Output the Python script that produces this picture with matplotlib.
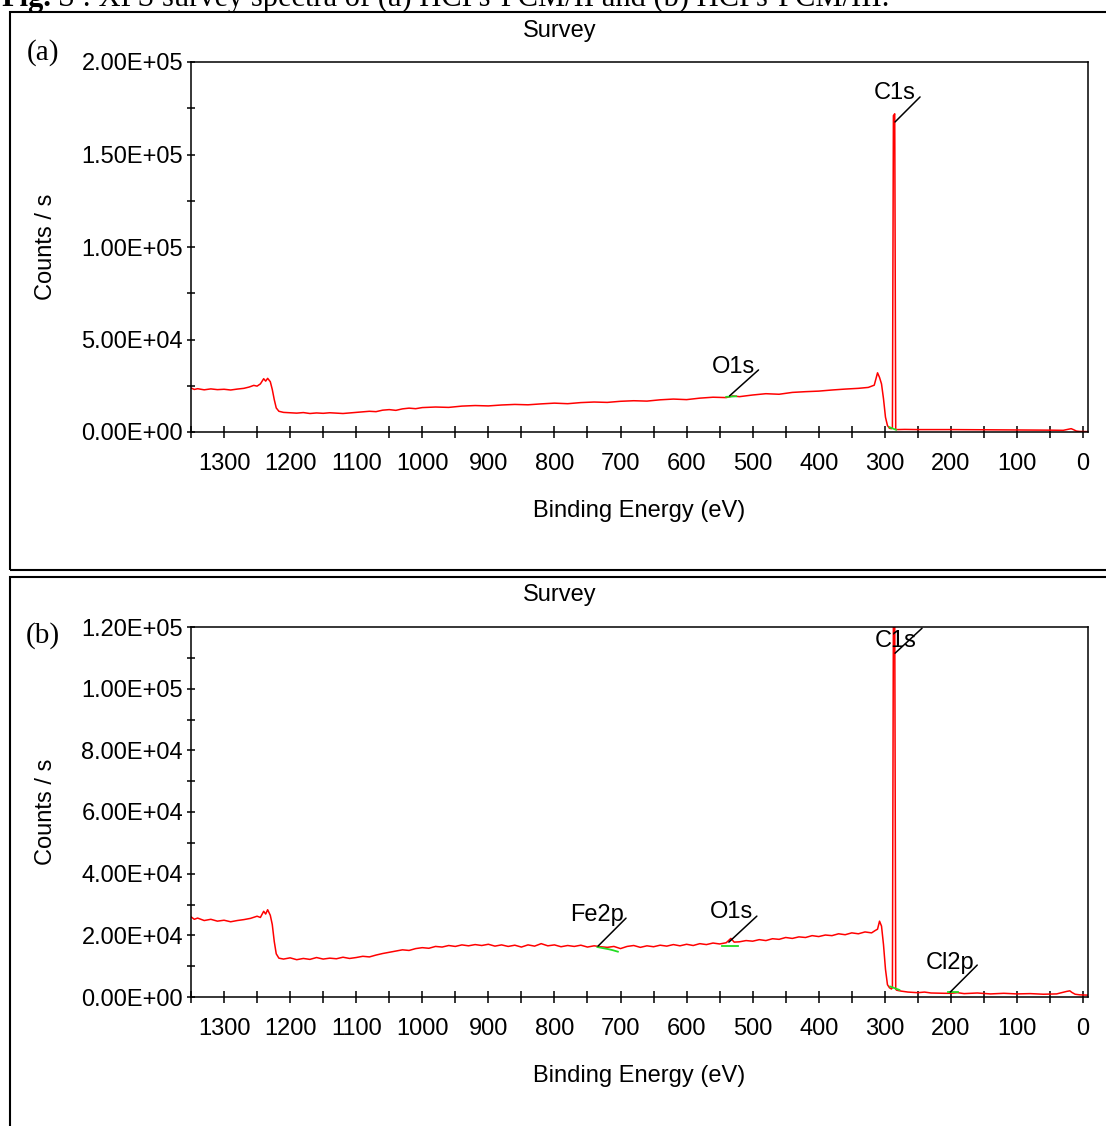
import matplotlib
matplotlib.use("Agg")
import matplotlib.pyplot as plt
from matplotlib.patches import Rectangle
from matplotlib.ticker import MultipleLocator, FuncFormatter

plt.rcParams['font.family'] = ['Liberation Sans', 'DejaVu Sans']

# ---------------- data ----------------
be_a = [1350, 1345, 1340, 1330, 1320, 1310, 1300, 1290, 1280, 1270, 1262, 1255, 1250, 1245,
        1240, 1237, 1234, 1230, 1227, 1224, 1221, 1217, 1210, 1200, 1190, 1180, 1170, 1160,
        1150, 1140, 1120, 1110, 1100, 1090, 1080, 1070, 1060, 1050, 1040, 1030, 1020, 1010,
        1000, 980, 960, 940, 920, 900, 880, 860, 840, 820, 800, 780, 760, 740, 720, 700, 680,
        660, 640, 620, 600, 580, 560, 540, 530, 520, 500, 480, 460, 440, 420, 400, 380, 360,
        340, 325, 316, 311, 308, 305, 302, 299, 296, 293, 290, 288.5, 287, 285, 283.5, 282,
        270, 250, 200, 150, 100, 50, 30, 22, 18, 14, 10, 5, -7.5]
counts_a = [23800, 23000, 23400, 22800, 23300, 22900, 23100, 22700, 23200, 23600, 24300, 25200,
            24800, 26000, 28800, 27500, 29000, 27200, 23000, 17500, 13000, 11200, 10600, 10400,
            10200, 10500, 10000, 10300, 10100, 10400, 10000, 10300, 10600, 10900, 11200, 11000,
            11800, 12100, 11700, 12500, 12900, 12600, 13200, 13500, 13300, 14000, 14300, 14100,
            14600, 14900, 14700, 15200, 15600, 15300, 15900, 16200, 16000, 16600, 16900, 16700,
            17400, 17800, 17500, 18300, 18800, 18600, 19500, 19100, 20000, 20700, 20400, 21400,
            21800, 22100, 22700, 23200, 23600, 24100, 25300, 32000, 29500, 26000, 18000, 8000,
            3500, 2000, 1800, 2500, 171000, 172000, 1500, 1300, 1400, 1300, 1300, 1200, 1100,
            1000, 900, 1500, 1800, 1200, 500, 300, 200]
bg_a_O1s_be = [540, 525]
bg_a_O1s_counts = [19000, 19300]
bg_a_C1s_be = [293, 283]
bg_a_C1s_counts = [2600, 1200]

be_b = [1350, 1345, 1340, 1330, 1320, 1310, 1300, 1290, 1280, 1270, 1260, 1250, 1245, 1240,
        1237, 1234, 1230, 1227, 1224, 1221, 1217, 1210, 1200, 1190, 1180, 1170, 1160, 1150,
        1140, 1130, 1120, 1110, 1100, 1090, 1080, 1070, 1060, 1050, 1040, 1030, 1020, 1010,
        1000, 990, 980, 970, 960, 950, 940, 930, 920, 910, 900, 890, 880, 870, 860, 850, 840,
        830, 820, 810, 800, 790, 780, 770, 760, 750, 740, 730, 720, 710, 700, 690, 680, 670,
        660, 650, 640, 630, 620, 610, 600, 590, 580, 570, 560, 550, 540, 533, 528, 520, 510,
        500, 490, 480, 470, 460, 450, 440, 430, 420, 410, 400, 390, 380, 370, 360, 350, 340,
        330, 320, 315, 311, 308, 305, 302, 299, 296, 293, 290, 288.5, 287, 285, 283.5, 282,
        275, 265, 250, 240, 230, 210, 200, 190, 180, 160, 140, 120, 100, 80, 60, 40, 25, 20,
        17, 12, 5, -7.5]
counts_b = [26000, 25200, 25600, 24800, 25200, 24600, 24900, 24400, 24800, 25100, 25500, 26200,
            25800, 27800, 26900, 28300, 26500, 23500, 18000, 14000, 12600, 12300, 12700, 12100,
            12500, 12200, 12800, 12300, 12600, 12400, 12900, 12500, 12800, 13200, 13000, 13600,
            14100, 14500, 14900, 15300, 15100, 15700, 16000, 15800, 16400, 16200, 16700, 16400,
            16900, 16600, 17000, 16700, 17100, 16500, 16900, 16400, 16800, 16200, 16900, 16500,
            17300, 16600, 16900, 16300, 16700, 16400, 16800, 16200, 16600, 16300, 16100, 16400,
            15700, 16400, 16700, 16100, 16600, 16300, 16800, 16500, 17000, 16600, 17100, 16700,
            17300, 17000, 17500, 17200, 17600, 19000, 17800, 17900, 18300, 18100, 18600, 18300,
            18900, 18700, 19300, 19000, 19500, 19300, 19900, 19600, 20100, 19900, 20500, 20200,
            20800, 20500, 21100, 20800, 21500, 22000, 24600, 23000, 17000, 9000, 4000, 3000,
            2600, 3000, 125000, 125000, 2500, 2200, 1900, 1600, 1400, 1600, 1300, 1200, 1200,
            1400, 1100, 1300, 1000, 1200, 1000, 1100, 900, 1000, 1800, 2000, 1500, 900, 700, 600]
bg_b_Fe2p_be = [735, 718, 712, 704]
bg_b_Fe2p_counts = [16200, 15500, 15200, 14700]
bg_b_O1s_be = [546, 522]
bg_b_O1s_counts = [16600, 16600]
bg_b_C1s_be = [292, 278]
bg_b_C1s_counts = [3400, 2300]
bg_b_Cl2p_be = [204, 189]
bg_b_Cl2p_counts = [1700, 1700]

x_ticks = list(range(0, 1301, 100))
x_tick_labels = [str(v) for v in x_ticks]

peaks_a = [("O1s", 535, 19500, (29, 26), (4, 29)),
           ("C1s", 284.5, 167600, (25, 25), (0, 29))]
peaks_b = [("Fe2p", 734, 16500, (28, 28), (-1, 31)),
           ("O1s", 536, 17800, (28, 26), (3, 30)),
           ("C1s", 284.5, 111500, (27, 25), (1, 12)),
           ("Cl2p", 201, 1600, (27, 27), (0, 29))]

# ---------------- figure ----------------
W, H = 1106, 1126
fig = plt.figure(figsize=(W / 100, H / 100), dpi=100)
FS = 17


def fx(px):
    return px / W


def fy(py):
    return 1 - py / H


def ax_rect(l, t, r, b):
    return [l / W, 1 - b / H, (r - l) / W, (b - t) / H]


# caption (cut off at the top of the page)
cap1 = fig.text(fx(1), fy(6), "Fig.", fontsize=22, fontweight='bold',
                family='Liberation Serif', va='baseline', ha='left')
fig.canvas.draw()
bb = cap1.get_window_extent()
fig.text(bb.x1 / W + 0.006, fy(6),
         "S : XPS survey spectra of (a) HCPs-PCM/II and (b) HCPs-PCM/III.",
         fontsize=22, family='Liberation Serif', va='baseline', ha='left')

# panel frames
for (t, b) in [(12, 570), (577, 1135)]:
    fig.patches.append(Rectangle((fx(10), fy(b)), (1115 - 10) / W, (b - t) / H,
                                 transform=fig.transFigure, fill=False,
                                 edgecolor='black', lw=1.5))

fmt = FuncFormatter(lambda v, p: f"{v:.2E}")


def setup(ax, ymax, ymajor, yminor, title_y, letter, letter_y, ylab_y, xlab_y):
    ax.set_xlim(1350, -7.5)
    ax.set_ylim(0, ymax)
    ax.set_xticks(x_ticks)
    ax.set_xticklabels(x_tick_labels)
    ax.xaxis.set_minor_locator(MultipleLocator(50))
    ax.yaxis.set_major_locator(MultipleLocator(ymajor))
    ax.yaxis.set_minor_locator(MultipleLocator(yminor))
    ax.yaxis.set_major_formatter(fmt)
    ax.tick_params(axis='x', which='both', direction='inout', length=8, width=1.1,
                   labelsize=FS, pad=11)
    ax.tick_params(axis='y', which='both', direction='inout', length=5.5, width=1.1,
                   labelsize=FS, pad=3)
    for s in ax.spines.values():
        s.set_linewidth(1.1)
    fig.text(fx(560), fy(title_y), "Survey", fontsize=FS, ha='center', va='center')
    fig.text(fx(43), fy(letter_y), letter, fontsize=21, family='Liberation Serif',
             ha='center', va='center')
    fig.text(fx(46), fy(ylab_y), "Counts / s", fontsize=FS, rotation=90,
             ha='center', va='center')
    fig.text(fx(639), fy(xlab_y), "Binding Energy (eV)", fontsize=FS,
             ha='center', va='center')


def label_peaks(ax, peaks):
    for name, be, c, lend, tpos in peaks:
        ax.annotate('', xy=(be, c), xytext=lend, textcoords='offset pixels',
                    arrowprops=dict(arrowstyle='-', color='black', lw=1.1,
                                    shrinkA=0, shrinkB=0))
        ax.annotate(name, xy=(be, c), xytext=tpos, textcoords='offset pixels',
                    ha='center', va='center', fontsize=FS)


GREEN = '#22dd22'
RED = '#ff0000'

ax_a = fig.add_axes(ax_rect(191, 62, 1088, 432))
ax_a.plot(be_a, counts_a, color=RED, lw=1.1)
ax_a.plot(bg_a_O1s_be, bg_a_O1s_counts, color=GREEN, lw=1.3)
ax_a.plot(bg_a_C1s_be, bg_a_C1s_counts, color=GREEN, lw=1.3)
setup(ax_a, 2.0e5, 5e4, 2.5e4, 31, "(a)", 53, 247, 511)
label_peaks(ax_a, peaks_a)

ax_b = fig.add_axes(ax_rect(191, 627, 1088, 997))
ax_b.plot(be_b, counts_b, color=RED, lw=1.1)
for bx, by in [(bg_b_Fe2p_be, bg_b_Fe2p_counts), (bg_b_O1s_be, bg_b_O1s_counts),
               (bg_b_C1s_be, bg_b_C1s_counts), (bg_b_Cl2p_be, bg_b_Cl2p_counts)]:
    ax_b.plot(bx, by, color=GREEN, lw=1.3)
setup(ax_b, 1.2e5, 2e4, 1e4, 595, "(b)", 636, 812, 1076)
label_peaks(ax_b, peaks_b)

fig.savefig("out.png", dpi=100)
